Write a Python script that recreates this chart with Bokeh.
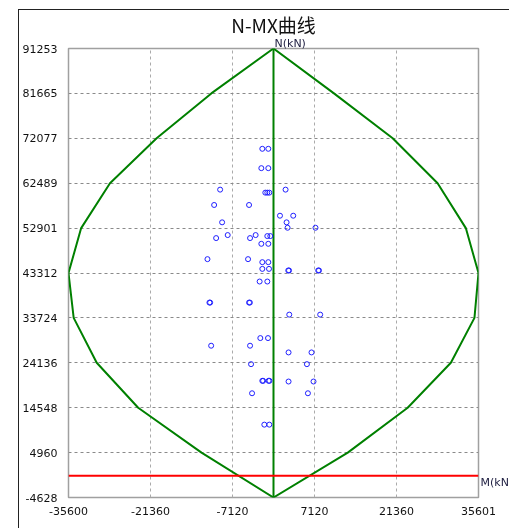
from bokeh.plotting import figure
from bokeh.models import FixedTicker, Span, Title, LinearAxis
from bokeh.embed import file_html
from bokeh.resources import INLINE

# ---- data ----
title_text = "N-MX曲线"
n_axis_label = "N(kN)"
m_axis_label = "M(kN)"

x_ticks = [-35600, -21360, -7120, 7120, 21360, 35601]
x_tick_labels = ["-35600", "-21360", "-7120", "7120", "21360", "35601"]
y_ticks = [91253, 81665, 72077, 62489, 52901, 43312, 33724, 24136, 14548, 4960, -4628]
y_tick_labels = ["91253", "81665", "72077", "62489", "52901", "43312",
                 "33724", "24136", "14548", "4960", "-4628"]

# interaction envelope (N levels, M right side, M left side)
env_N = [91253, 81665, 72077, 62489, 52901, 43312, 33724, 24136, 14548, 4960, -4628]
env_M_right = [0, 10500, 20700, 28500, 33400, 35601, 34900, 30800, 23300, 12900, 0]
env_M_left = [0, -10800, -20300, -28400, -33400, -35600, -34700, -30700, -23500, -12500, 0]

zero_N = 0
m_label_N = -1400   # where the M(kN) name sits, just under the zero line

# load points (M, N)
pts_M = [-1940, -901, -2113, -901, -9268, 2096, -1421, -1074, -728,
         -10308, -4244, 1126, 3430, -8922, 2269, 2443, 7293,
         -9961, -4071, -7952, -3101, -1074, -554, -2113, -901,
         -11468, -4418, -1940, -901, -1940, -780,
         2564, 2700, 7761, 7900, -2408, -1074,
         -11122, -11000, -4244, -4100, 2737, 8107,
         -2287, -953, -10828, -4071, 2616, 6600,
         -3898, 5804, -1940, -1800, -849, -700,
         2616, 6947, -3725, 5977, -1594, -728]
pts_N = [69833, 69833, 65699, 65699, 61115, 61115, 60472, 60472, 60472,
         57838, 57838, 55546, 55546, 54132, 54132, 52975, 52975,
         50769, 50769, 51412, 51412, 51198, 51198, 49548, 49548,
         46271, 46271, 45628, 45628, 44193, 44193,
         43851, 43851, 43851, 43851, 41494, 41494,
         36996, 36996, 36996, 36996, 34426, 34426,
         29413, 29413, 27786, 27786, 26350, 26350,
         23844, 23844, 20289, 20289, 20289, 20289,
         20139, 20139, 17632, 17632, 10928, 10928]

# ---- figure ----
p = figure(width=500, height=525,
           x_range=(x_ticks[0], x_ticks[-1]), y_range=(y_ticks[-1], y_ticks[0]),
           output_backend="svg", toolbar_location=None,
           min_border_left=48, min_border_right=41,
           min_border_top=20, min_border_bottom=38)
p.styles = {"position": "fixed", "left": "18px", "top": "9px",
            "border-left": "1px solid #222", "border-top": "1px solid #222"}
p.background_fill_color = "white"
p.border_fill_color = "white"
p.outline_line_color = "#a0a0a0"
p.outline_line_width = 1.5

p.title.text = title_text
p.title.align = "center"
p.title.offset = 4
p.title.text_font = "Noto Sans CJK SC"
p.title.text_font_size = "19px"
p.title.text_font_style = "normal"
p.title.text_color = "#111111"
p.title.standoff = -4

p.add_layout(Title(text=n_axis_label, align="left", offset=206,
                   text_font="DejaVu Sans", text_font_size="11px",
                   text_font_style="normal", text_color="#222244",
                   standoff=-2), "above")

p.xaxis.ticker = FixedTicker(ticks=x_ticks)
p.xaxis.major_label_overrides = {t: l for t, l in zip(x_ticks, x_tick_labels)}
p.xaxis.axis_line_color = None
p.xaxis.major_tick_line_color = None
p.xaxis.minor_tick_line_color = None
p.xaxis.major_tick_out = 0
p.xaxis.minor_tick_out = 0
p.xaxis.major_label_standoff = 9
p.xaxis.major_label_text_font = "DejaVu Sans"
p.xaxis.major_label_text_font_size = "11px"
p.xaxis.major_label_text_color = "#111111"

p.yaxis.ticker = FixedTicker(ticks=y_ticks)
p.yaxis.major_label_overrides = {t: l for t, l in zip(y_ticks, y_tick_labels)}
p.yaxis.axis_line_color = None
p.yaxis.major_tick_line_color = None
p.yaxis.minor_tick_line_color = None
p.yaxis.major_tick_out = 0
p.yaxis.minor_tick_out = 0
p.yaxis.major_label_standoff = 11
p.yaxis.major_label_text_font = "DejaVu Sans"
p.yaxis.major_label_text_font_size = "11px"
p.yaxis.major_label_text_color = "#111111"

m_axis = LinearAxis(ticker=FixedTicker(ticks=[m_label_N]),
                    major_label_overrides={m_label_N: m_axis_label},
                    axis_line_color=None, major_tick_line_color=None,
                    minor_tick_line_color=None, major_tick_out=0, minor_tick_out=0,
                    major_label_standoff=2,
                    major_label_text_font="DejaVu Sans",
                    major_label_text_font_size="11px",
                    major_label_text_color="#222244")
p.add_layout(m_axis, "right")

p.xgrid.grid_line_color = "#aaaaaa"
p.xgrid.grid_line_dash = "3 3"
p.ygrid.grid_line_color = "#8a8a8a"
p.ygrid.grid_line_dash = "3 3"

# envelope
env_M = env_M_right + env_M_left[::-1]
env_NN = env_N + env_N[::-1]
p.line(env_M, env_NN, line_color="#008000", line_width=2)
# N axis line
p.line([env_M_right[0], env_M_right[-1]], [env_N[0], env_N[-1]],
       line_color="#008000", line_width=2)
# zero line
p.add_layout(Span(location=zero_N, dimension="width", line_color="#ff0000", line_width=2))

p.scatter(pts_M, pts_N, marker="circle", size=5, fill_color=None,
          line_color="#2020ff", line_width=1)

open("out.html", "w").write(file_html(p, INLINE))
